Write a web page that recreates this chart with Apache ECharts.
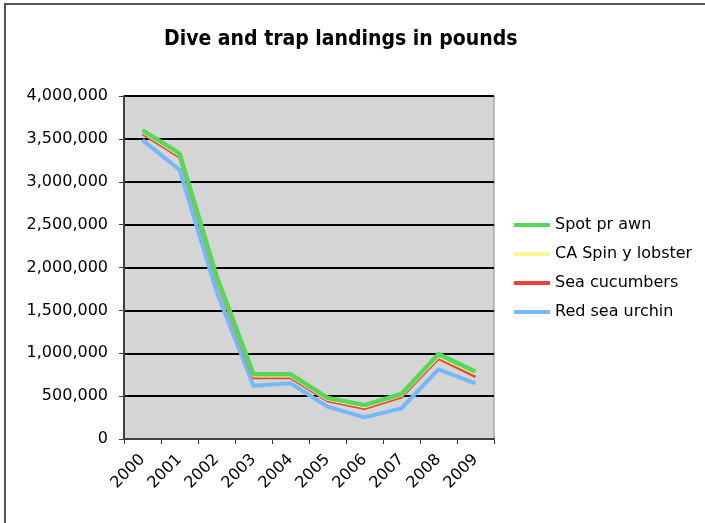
<!DOCTYPE html>
<html>
<head>
<meta charset="utf-8">
<script src="https://cdn.jsdelivr.net/npm/echarts@6/dist/echarts.min.js"></script>
<style>
  html, body { margin: 0; padding: 0; background: #fff; }
  #chart { width: 705px; height: 523px; }
</style>
</head>
<body>
<div id="chart"></div>
<script>
// Landings by year (pounds)
const years = ['2000', '2001', '2002', '2003', '2004', '2005', '2006', '2007', '2008', '2009'];
const spotPrawn = [3600000, 3330000, 1900000, 755000, 755000, 480000, 395000, 525000, 990000, 785000];
const spinyLobster = [3580000, 3310000, 1875000, 735000, 735000, 462000, 375000, 508000, 962000, 758000];
const seaCucumbers = [3560000, 3290000, 1855000, 715000, 715000, 445000, 355000, 490000, 940000, 726000];
const redSeaUrchin = [3485000, 3140000, 1720000, 620000, 650000, 377000, 253000, 357000, 812000, 649000];
const seriesNames = ['Spot pr awn', 'CA Spin y lobster', 'Sea cucumbers', 'Red sea urchin'];

const font = 'DejaVu Sans';
const chart = echarts.init(document.getElementById('chart'));

function lineSeries(name, data, color, width, z) {
  return {
    name: name, type: 'line', data: data, symbol: 'none', z: z,
    lineStyle: { color: color, width: width },
    itemStyle: { color: color }
  };
}

chart.setOption({
  backgroundColor: '#ffffff',
  animation: false,
  title: {
    text: 'Dive and trap landings in pounds',
    left: 159, top: 24,
    textStyle: { fontFamily: 'DejaVu Sans Condensed, DejaVu Sans, sans-serif', fontSize: 21, fontWeight: 'bold', color: '#000' }
  },
  graphic: [
    { type: 'polyline', shape: { points: [[5, 523], [5, 4], [705, 4]] }, style: { stroke: '#555', lineWidth: 2, fill: null } }
  ],
  legend: {
    orient: 'vertical', left: 514, top: 215, padding: 0,
    icon: 'rect', itemWidth: 36, itemHeight: 4, itemGap: 9,
    textStyle: { fontFamily: font, fontSize: 16, color: '#000', lineHeight: 20 },
    data: seriesNames
  },
  grid: {
    left: 124, top: 96, right: 211, bottom: 84,
    show: true, backgroundColor: '#d5d5d5', borderColor: '#8a8a8a', borderWidth: 1
  },
  xAxis: {
    type: 'category', data: years, boundaryGap: true,
    axisLine: { lineStyle: { color: '#404040', width: 2 } },
    axisTick: { show: true, length: 5, lineStyle: { color: '#404040', width: 1 } },
    axisLabel: { rotate: 45, fontFamily: font, fontSize: 16, color: '#000', margin: 18 }
  },
  yAxis: {
    type: 'value', min: 0, max: 4000000, interval: 500000,
    axisLine: { show: true, lineStyle: { color: '#404040', width: 2 } },
    axisTick: { show: true, length: 5, lineStyle: { color: '#404040', width: 1 } },
    splitLine: { lineStyle: { color: '#000', width: 2 } },
    axisLabel: {
      fontFamily: font, fontSize: 16, color: '#000', margin: 16,
      formatter: v => v.toLocaleString('en-US')
    }
  },
  series: [
    lineSeries(seriesNames[0], spotPrawn, '#55d85a', 4.5, 5),
    lineSeries(seriesNames[1], spinyLobster, '#fff59a', 3, 4),
    lineSeries(seriesNames[2], seaCucumbers, '#e8453a', 3, 3),
    lineSeries(seriesNames[3], redSeaUrchin, '#74b8fb', 4, 2)
  ]
});
</script>
</body>
</html>
